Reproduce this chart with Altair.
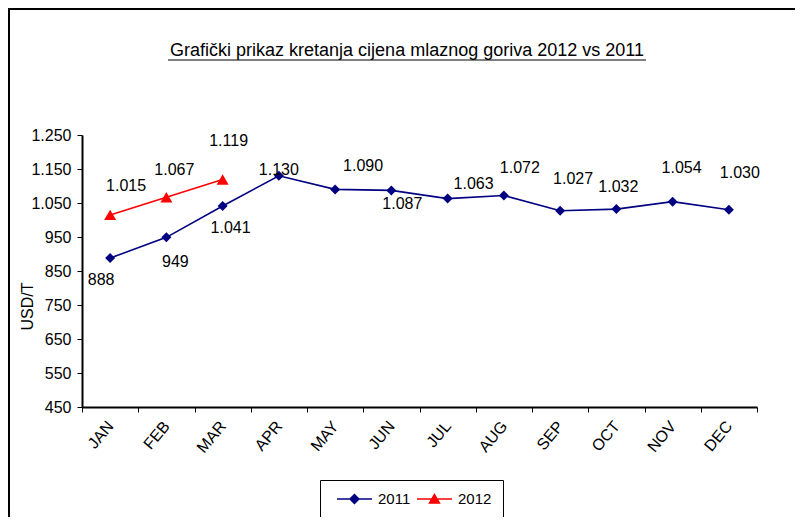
import altair as alt
import pandas as pd

# ---------------- data ----------------
months = ["JAN", "FEB", "MAR", "APR", "MAY", "JUN", "JUL", "AUG", "SEP", "OCT", "NOV", "DEC"]
values_2011 = [888, 949, 1041, 1130, 1090, 1087, 1063, 1072, 1027, 1032, 1054, 1030]
values_2012 = [1015, 1067, 1119]
series = ["2011", "2012"]
y_ticks = [450, 550, 650, 750, 850, 950, 1050, 1150, 1250]
title_text = "Grafički prikaz kretanja cijena mlaznog goriva 2012 vs 2011"
y_title = "USD/T"

# ---------------- style / layout ----------------
FONT = "Liberation Sans"
colors = ["#000080", "#FF0000"]
marker_shapes = ["diamond", "triangle-up"]
marker_sizes = [100, 144]
# legend symbols: line segment with the marker on it (unit coords, scaled by sqrt(size)/2)
legend_paths = [
    "M-0.29,0L4.71,0M2.21,-0.64L2.85,0L2.21,0.64L1.57,0Z",
    "M-0.29,0L4.71,0M2.21,-0.64L2.92,0.57L1.5,0.57Z",
]
# per-point label offsets in pixels (dx, dy), like the manually placed labels of the original
label_offsets = {
    "2011": [(-9, 22), (9, 25), (8, 22), (0, -6), (28, -23), (11, 14), (26, -15),
             (16, -28), (13, -32), (2, -22), (9, -34), (11, -37)],
    "2012": [(16, -29), (8, -27), (6, -39)],
}

W, H = 675, 272
PAD_L, PAD_T, PAD_R, PAD_B = 74, 127, 38, 110

rows = []
for m, v in zip(months, values_2011):
    rows.append({"month": m, "year": "2011", "value": v})
for m, v in zip(months, values_2012):
    rows.append({"month": m, "year": "2012", "value": v})
df = pd.DataFrame(rows)

x_enc = alt.X(
    "month:N",
    sort=months,
    scale=alt.Scale(type="band", domain=months, paddingInner=0, paddingOuter=0),
    axis=alt.Axis(
        title=None, labelAngle=-50, labelAlign="right", labelBaseline="middle",
        labelPadding=11, labelFont=FONT, labelFontSize=16, labelColor="black",
        tickBand="extent", tickSize=5, tickColor="black", tickWidth=1,
        domainColor="black", domainWidth=2, grid=False,
    ),
)
y_enc = alt.Y(
    "value:Q",
    scale=alt.Scale(domain=[450, 1250], nice=False, zero=False),
    axis=alt.Axis(
        title=y_title, values=y_ticks, format=",d",
        labelExpr="replace(datum.label, ',', '.')",
        labelFont=FONT, labelFontSize=16, labelColor="black", labelPadding=6,
        tickSize=5, tickColor="black", tickWidth=1,
        domainColor="black", domainWidth=2, grid=False,
        titleFont=FONT, titleFontSize=16, titleFontWeight="normal", titleColor="black",
        titleAngle=270, titleX=-55, titleY=171, titleAlign="center", titleBaseline="middle",
    ),
)

base = alt.Chart(df)
layers = []

# lines and markers per series
for i, s in enumerate(series):
    sub = base.transform_filter(alt.datum.year == s)
    layers.append(sub.mark_line(color=colors[i], strokeWidth=1.6).encode(x=x_enc, y=y_enc))
    layers.append(
        sub.mark_point(shape=marker_shapes[i], filled=True, size=marker_sizes[i],
                       color=colors[i], opacity=1).encode(x=x_enc, y=y_enc)
    )

# data labels
for s, vals in (("2011", values_2011), ("2012", values_2012)):
    for (m, v), (dx, dy) in zip(zip(months, vals), label_offsets[s]):
        layers.append(
            base.transform_filter((alt.datum.year == s) & (alt.datum.month == m))
            .transform_calculate(lbl="replace(format(datum.value, ',d'), ',', '.')")
            .mark_text(font=FONT, fontSize=16, color="black", align="center",
                       baseline="middle", dx=dx, dy=dy)
            .encode(x=x_enc, y=y_enc, text="lbl:N")
        )

# legend (combined fill / stroke / shape legend from an empty helper layer)
leg = alt.Legend(
    title=None, orient="none", legendX=238, legendY=345, direction="horizontal",
    strokeColor="black", padding=11, symbolSize=196, symbolStrokeWidth=1.5,
    labelFont=FONT, labelFontSize=15, labelColor="black", labelOffset=31,
    columnPadding=0, symbolOpacity=1,
)
color_scale = alt.Scale(domain=series, range=colors)
shape_scale = alt.Scale(domain=series, range=legend_paths)
layers.append(
    base.transform_filter("false")
    .mark_point(filled=True, size=196, strokeWidth=1.5, opacity=1)
    .encode(
        x=x_enc, y=y_enc,
        fill=alt.Fill("year:N", scale=color_scale, legend=leg),
        stroke=alt.Stroke("year:N", scale=color_scale, legend=leg),
        shape=alt.Shape("year:N", scale=shape_scale, legend=leg),
    )
)

# title (underlined) and outer frame
one = alt.Data(values=[{}])
layers.append(
    alt.Chart(one).mark_text(text=title_text, font=FONT, fontSize=18, color="black",
                             align="center", baseline="alphabetic")
    .encode(x=alt.value(325), y=alt.value(-79))
)
layers.append(
    alt.Chart(one).mark_rule(color="black", strokeWidth=1)
    .encode(x=alt.value(86), x2=alt.value(564), y=alt.value(-75))
)
layers.append(
    alt.Chart(one).mark_rule(color="black", strokeWidth=2)
    .encode(x=alt.value(-PAD_L), x2=alt.value(W + PAD_R), y=alt.value(-PAD_T + 1))
)
layers.append(
    alt.Chart(one).mark_rule(color="black", strokeWidth=2)
    .encode(x=alt.value(-PAD_L + 1), y=alt.value(-PAD_T), y2=alt.value(H + PAD_B))
)

chart = (
    alt.layer(*layers)
    .properties(
        width=W, height=H,
        autosize=alt.AutoSizeParams(type="none"),
        padding={"left": PAD_L, "top": PAD_T, "right": PAD_R, "bottom": PAD_B},
        background="white",
    )
    .configure_view(stroke=None)
)

chart.save("out.html", embed_options={"renderer": "svg", "actions": False})
